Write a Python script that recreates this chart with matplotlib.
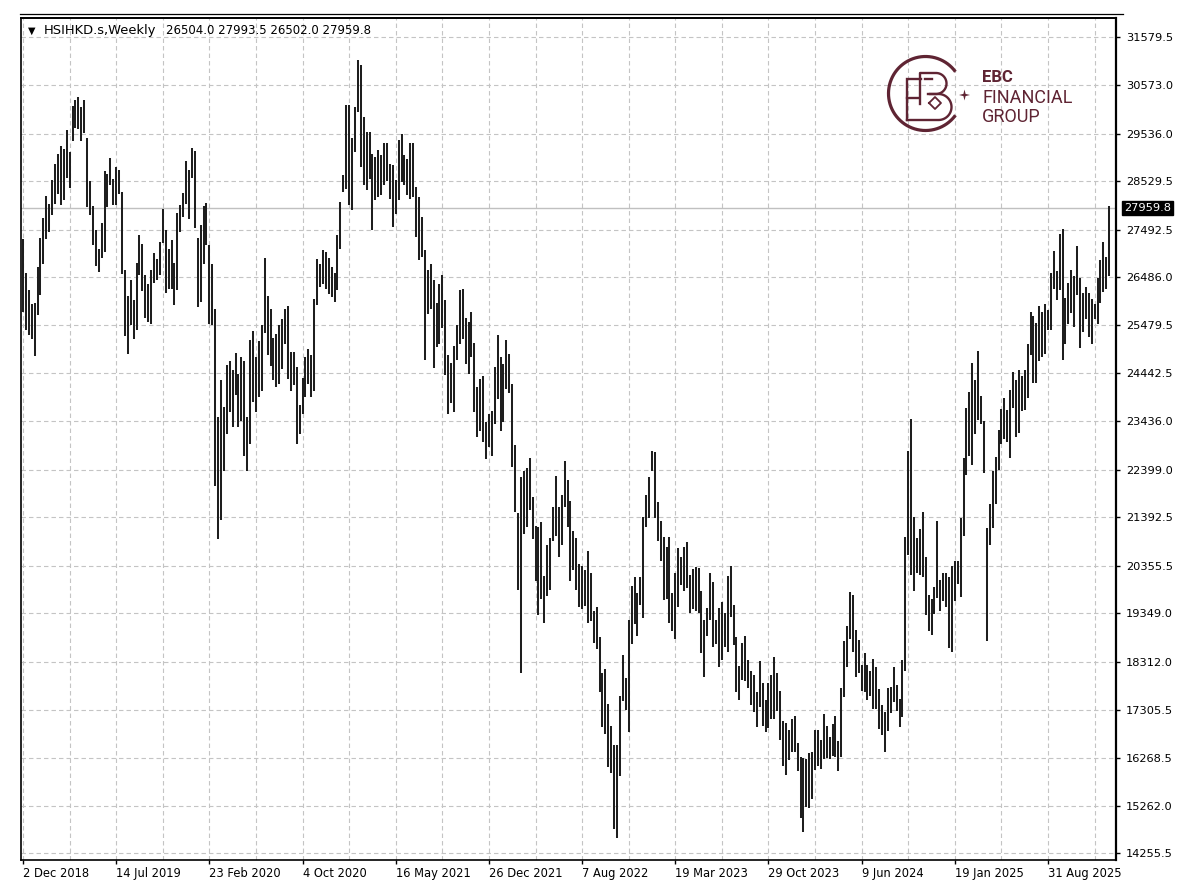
import matplotlib
matplotlib.use("Agg")
import matplotlib.pyplot as plt
import numpy as np
import pandas as pd

plt.rcParams['font.family'] = ['DejaVu Sans']
plt.rcParams['lines.scale_dashes'] = False

# ---------------- data ----------------
symbol = "HSIHKD.s,Weekly"
last_ohlc = [26504.0, 27993.5, 26502.0, 27959.8]
first_week = "2018-12-02"

y_ticks = [31579.5, 30573.0, 29536.0, 28529.5, 27492.5, 26486.0, 25479.5,
           24442.5, 23436.0, 22399.0, 21392.5, 20355.5, 19349.0, 18312.0,
           17305.5, 16268.5, 15262.0, 14255.5]

highs = [
    # 0-60
    27290, 26575, 26206, 25923, 25937, 26702, 27318, 27750, 28204, 28048,
    28558, 28884, 29110, 29266, 29216, 29606, 29146, 30116, 30258, 30314,
    30102, 30258, 29450, 28529, 27991, 27481, 27092, 27637, 28742, 28685,
    29018, 28579, 28827, 28771, 28296, 26631, 26079, 26419, 25994, 26787,
    27375, 27184, 26525, 26348, 26631, 26999, 26879, 27233, 27942, 27481,
    27092, 27269, 26787, 27849, 28012, 28274, 28954, 28756, 29238, 29167,
    27325,
    # 61-126
    27587, 27991, 28062, 27162, 26759, 25817, 23515, 24294, 23727, 24613,
    24698, 24506, 24875, 24421, 24790, 24705, 23515, 25158, 25342, 24790,
    25130, 25463, 26900, 26079, 25810, 25200, 25285, 25463, 25604, 25817,
    25866, 24896, 24896, 24577, 23763, 24350, 24790, 24967, 24825, 26029,
    26879, 26773, 27056, 27021, 26900, 26702, 26575, 27375, 28083, 28650,
    30137, 30137, 29450, 30102, 31108, 30987, 29889, 29571, 29571, 29110,
    29039, 29181, 29075, 29340, 29340, 28898,
    # 127-138
    28862, 28544, 29394, 29535, 29075, 29004, 29337, 29337, 28402, 28189,
    27764, 27071,
    # 139-186
    26632, 26773, 26419, 25937, 26334, 26525, 25994, 24825, 24662, 25017,
    25463, 26207, 26242, 25626, 25534, 25746, 25088, 24153, 24330, 24379,
    23409, 23586, 23643, 24577, 25251, 24790, 24634, 25158, 24847, 24209,
    22934, 21475, 22240, 22382, 22438, 22651, 21829, 21213, 21178, 21284,
    20151, 20809, 20951, 21617, 22276, 21617, 21872, 22594,
    # 187-248
    22183, 21729, 21106, 20950, 20398, 20362, 20270, 20667, 20199, 19406,
    19491, 18840, 18075, 18167, 17423, 16963, 16559, 16559, 17600, 18471,
    17975, 19208, 19937, 20114, 19775, 20114, 21404, 21871, 22239, 22792,
    22771, 21708, 21319, 20979, 20766, 20979, 19775, 20199, 20738, 20539,
    20766, 20858, 20171, 20292, 20327, 20313, 19831, 19208, 19463, 20199,
    20008, 19208, 19463, 19583, 19350, 20150, 20362, 19534, 18840, 18237,
    18712, 18875,
    # 249-309
    18358, 18132, 18047, 17671, 18330, 17863, 17509, 17863, 18047, 18415,
    18075, 17707, 17055, 17013, 16871, 17105, 17176, 16588, 16304, 16276,
    16255, 16375, 16396, 16871, 16871, 16659, 17211, 16963, 16715, 16999,
    17176, 16630, 17764, 18755, 19088, 19796, 19747, 18996, 18783, 18259,
    18500, 18259, 18118, 18380, 18217, 17742, 17409, 17246, 17764, 17778,
    18203, 17834, 17530, 18358, 20979, 22807, 23479, 21404, 20951, 21142,
    21496,
    # 310-373
    20540, 19746, 19655, 19917, 21319, 20058, 20200, 20200, 20115, 20363,
    20469, 20469, 21375, 22650, 23713, 24046, 24662, 24294, 24917, 23954,
    23430, 21163, 21673, 22367, 22679, 23245, 23692, 23925, 23670, 24095,
    24471, 24294, 24520, 24379, 24506, 25059, 25746, 25654, 25512, 25866,
    25746, 25923, 25781, 26574, 27042, 26617, 27396, 27516, 26050, 26362,
    26631, 26504, 27141, 26475, 26150, 26277, 26150, 26029, 25923, 26475,
    26858, 27233, 26914, 27993.5,
]

lows = [
    # 0-60
    25746, 25356, 25250, 25179, 24804, 25675, 26100, 26773, 27304, 27446,
    27800, 28048, 28260, 28012, 28119, 28600, 28388, 29379, 29663, 29641,
    29379, 29549, 27977, 27800, 27162, 26716, 26596, 26893, 27021, 27977,
    28437, 28012, 28012, 28260, 26560, 25229, 24860, 25462, 25179, 25356,
    26525, 26192, 25625, 25533, 25484, 26362, 26419, 26525, 27212, 26150,
    26242, 26242, 25887, 26220, 27446, 27764, 28034, 27729, 28600, 27538,
    25852,
    # 61-126
    25958, 26773, 27162, 25498, 25463, 22063, 20929, 21333, 22381, 23161,
    23621, 23316, 23975, 23316, 23444, 22700, 22381, 22948, 23833, 23621,
    23940, 24081, 25300, 24825, 24591, 24308, 24152, 24209, 24542, 25073,
    24329, 24067, 24188, 22948, 23161, 23586, 23940, 24223, 23940, 24081,
    25888, 26277, 26348, 26242, 26135, 26065, 25958, 26206, 27092, 28296,
    28367, 28012, 27906, 29146, 29996, 28827, 28437, 28331, 28579, 27481,
    28119, 28189, 28225, 28437, 28520, 28154,
    # 127-138
    27552, 27835, 28119, 28508, 28437, 28225, 28154, 28189, 27339, 26844,
    26915, 24733,
    # 139-186
    25697, 25817, 24563, 25003, 25059, 25413, 24400, 23572, 23813, 23621,
    24733, 25059, 25180, 24648, 24422, 24790, 23621, 23104, 23218, 22984,
    22630, 22878, 22701, 23373, 23905, 23218, 23409, 24117, 24025, 22453,
    21496, 19846, 18075, 21036, 21178, 21546, 20930, 20030, 19322, 19655,
    19138, 19726, 19846, 20880, 20999, 20554, 20809, 21617,
    # 187-248
    21177, 20044, 20270, 19845, 19491, 19442, 19512, 19137, 19180, 18712,
    18592, 17671, 16941, 16785, 16091, 15971, 14767, 14576, 15900, 17480,
    17295, 16821, 18698, 19123, 18875, 19534, 19250, 21177, 21375, 22367,
    21375, 20894, 20469, 19633, 19654, 19137, 18967, 18804, 19477, 19959,
    19817, 19888, 19349, 19442, 19406, 19349, 18499, 17990, 18875, 19208,
    18641, 18698, 18216, 18358, 18627, 18521, 19265, 18684, 17671, 17508,
    17933, 17904,
    # 249-309
    17760, 17409, 17246, 16942, 17367, 16963, 16821, 16913, 17105, 17105,
    17282, 16659, 16113, 15922, 16234, 16396, 16396, 15993, 15001, 14718,
    15242, 15214, 15405, 16021, 16113, 16042, 16255, 16276, 16255, 16326,
    16290, 15993, 16290, 17565, 18217, 18805, 18521, 18004, 18075, 17707,
    17671, 17509, 17600, 17317, 17317, 16892, 16772, 16396, 16857, 17225,
    17459, 17282, 16928, 17140, 18118, 20597, 20172, 19817, 20200, 20172,
    20129,
    # 310-373
    19321, 18981, 18897, 19336, 19676, 19392, 19619, 19492, 18613, 18521,
    19605, 19973, 19690, 21000, 22296, 22700, 22509, 23160, 23458, 23373,
    22324, 18769, 20809, 21163, 21673, 22395, 22948, 23054, 22983, 22650,
    23713, 23090, 23174, 23656, 23670, 23925, 24825, 24237, 24237, 24705,
    24790, 24860, 25356, 25356, 26241, 26008, 26220, 24733, 25073, 25484,
    25724, 25427, 26100, 24988, 25321, 25604, 25214, 25059, 25604, 25484,
    25937, 26171, 26241, 26502,
]

n = len(highs)
dates = pd.date_range(first_week, periods=n, freq="7D")
idx = np.arange(n)

# ---------------- figure ----------------
W, H = 1200, 896
fig = plt.figure(figsize=(W / 100, H / 100), dpi=100)
fig.patch.set_facecolor("white")

ax_l, ax_r, ax_t, ax_b = 20.5, 1115.5, 18, 860
ax = fig.add_axes([ax_l / W, 1 - ax_b / H, (ax_r - ax_l) / W, (ax_b - ax_t) / H])

x_per = 2.912
x0 = 23.0
ax.set_xlim((ax_l - x0) / x_per, (ax_r - x0) / x_per)
ppx = 21.23
ax.set_ylim(31579.5 - (ax_b - 37.3) * ppx, 31579.5 - (ax_t - 37.3) * ppx)

grid_c = "#c4c4c4"
dash = (0, (3.2, 2.2))
for v in y_ticks:
    ax.axhline(v, color=grid_c, lw=0.8, ls=dash, zorder=1)
for i in range(0, n + 16, 16):
    ax.axvline(i, color=grid_c, lw=0.8, ls=dash, zorder=1)

# current price line
ax.axhline(last_ohlc[3], color="#c0c0c0", lw=1.0, zorder=2)

# bars
ax.vlines(idx, lows, highs, colors="#1e1e1e", lw=1.45, zorder=3)

# axes styling
for s in ax.spines.values():
    s.set_color("black")
ax.spines["left"].set_linewidth(1.2)
ax.spines["top"].set_linewidth(1.4)
ax.spines["right"].set_linewidth(1.6)
ax.spines["bottom"].set_linewidth(1.2)

ax.yaxis.tick_right()
ax.set_yticks(y_ticks)
ax.set_yticklabels([f"{v:.1f}" for v in y_ticks])
ax.tick_params(axis="y", direction="out", length=3.2, width=1, pad=4.5,
               labelsize=8.2, colors="black")

xt = list(range(0, n, 32))
ax.set_xticks(xt)
ax.set_xticklabels([f"{dates[i].day} {dates[i]:%b %Y}" for i in xt])
for lab in ax.get_xticklabels():
    lab.set_horizontalalignment("left")
ax.tick_params(axis="x", direction="out", length=3.2, width=1, pad=2.0,
               labelsize=8.3, colors="black")

# price label box
ax.annotate(f"{last_ohlc[3]:.1f}", xy=(1.0, last_ohlc[3]),
            xycoords=("axes fraction", "data"), xytext=(6.0, 0),
            textcoords="offset points", ha="left", va="center",
            fontsize=8.2, color="white", zorder=10, annotation_clip=False,
            bbox=dict(boxstyle="square,pad=0.2", fc="black", ec="black"))

# ---------------- overlay (header, logo, frame) ----------------
ov = fig.add_axes([0, 0, 1, 1], zorder=5)
ov.set_xlim(0, W)
ov.set_ylim(H, 0)
ov.axis("off")
ov.patch.set_alpha(0)

ov.plot([20, 1123], [14, 14], color="black", lw=0.9)

ov.text(28, 30.5, "\u25BC", fontsize=7, va="center", ha="left", color="black")
ov.text(44, 30.5, symbol, fontsize=9.4, va="center", ha="left", color="black")
ov.text(166, 30.5, " ".join(f"{v:.1f}" for v in last_ohlc), fontsize=8.5,
        va="center", ha="left", color="black")

logo_c = "#5f2433"
cx, cy, r = 925.5, 93.5, 37.0
t = np.radians(np.linspace(36, 324, 200))
ov.plot(cx + r * np.cos(t), cy - r * np.sin(t), color=logo_c, lw=2.3,
        solid_capstyle="butt")

# star
sx, sy, sr = 964.5, 95.0, 5.5
ang = np.radians(np.arange(0, 360, 45))
rad = np.where(np.arange(8) % 2 == 0, sr, sr * 0.28)
ov.fill(sx + rad * np.cos(ang), sy + rad * np.sin(ang), color=logo_c, lw=0)

# stylised E / B monogram
lw_m = 1.7
ov.plot([921, 907, 907], [79, 79, 120], color=logo_c, lw=lw_m, solid_joinstyle="miter")
ov.plot([907, 919], [98, 98], color=logo_c, lw=lw_m)
ov.plot([925, 932], [79, 79], color=logo_c, lw=lw_m)
tt = np.radians(np.linspace(-90, 90, 60))
ov.plot(np.r_[920, 920, 936, 936 + 10.5 * np.cos(tt), 928],
        np.r_[104, 73, 73, 83.5 + 10.5 * np.sin(tt), 94],
        color=logo_c, lw=lw_m)
ov.plot(np.r_[930, 938.5 + 13 * np.cos(tt), 907],
        np.r_[94, 107 + 13 * np.sin(tt), 120],
        color=logo_c, lw=lw_m)
ov.plot([929, 935, 941, 935, 929], [103, 97, 103, 109, 103], color=logo_c, lw=1.3)

ov.text(982, 82, "EBC", fontsize=12, fontweight="bold", family="Roboto",
        color=logo_c, ha="left", va="baseline")
ov.text(982, 103, "FINANCIAL", fontsize=13, family="Roboto",
        color=logo_c, ha="left", va="baseline")
ov.text(982, 122, "GROUP", fontsize=13, family="Roboto",
        color=logo_c, ha="left", va="baseline")

fig.savefig("out.png", dpi=100, facecolor="white")
